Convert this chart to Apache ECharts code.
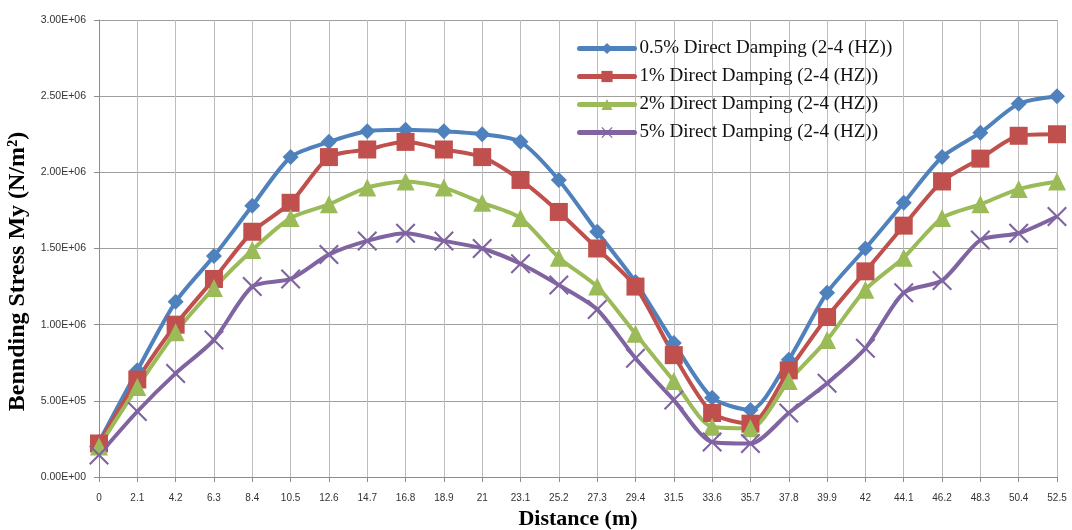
<!DOCTYPE html>
<html>
<head>
<meta charset="utf-8">
<script src="https://cdn.jsdelivr.net/npm/echarts@6/dist/echarts.min.js"></script>
<style>
  html, body { margin: 0; padding: 0; background: #fff; }
  #chart { width: 1072px; height: 530px; }
</style>
</head>
<body>
<div id="chart"></div>
<script>
// Distance along the member (m)
const distances = ['0', '2.1', '4.2', '6.3', '8.4', '10.5', '12.6', '14.7', '16.8', '18.9', '21', '23.1', '25.2',
  '27.3', '29.4', '31.5', '33.6', '35.7', '37.8', '39.9', '42', '44.1', '46.2', '48.3', '50.4', '52.5'];

// Bending stress My (N/m²) for each damping ratio
const damping05 = [2.3e5, 7.0e5, 1.15e6, 1.45e6, 1.78e6, 2.10e6, 2.20e6, 2.27e6, 2.28e6, 2.27e6, 2.25e6, 2.20e6, 1.95e6,
  1.61e6, 1.28e6, 8.8e5, 5.2e5, 4.4e5, 7.7e5, 1.21e6, 1.50e6, 1.80e6, 2.10e6, 2.26e6, 2.45e6, 2.50e6];
const damping1 = [2.2e5, 6.4e5, 1.00e6, 1.30e6, 1.61e6, 1.80e6, 2.10e6, 2.15e6, 2.20e6, 2.15e6, 2.10e6, 1.95e6, 1.74e6,
  1.50e6, 1.25e6, 8.0e5, 4.2e5, 3.5e5, 7.0e5, 1.05e6, 1.35e6, 1.65e6, 1.94e6, 2.09e6, 2.24e6, 2.25e6];
const damping2 = [2.0e5, 5.9e5, 9.5e5, 1.24e6, 1.49e6, 1.70e6, 1.79e6, 1.90e6, 1.94e6, 1.90e6, 1.80e6, 1.70e6, 1.44e6,
  1.25e6, 9.4e5, 6.3e5, 3.3e5, 3.2e5, 6.3e5, 9.0e5, 1.23e6, 1.44e6, 1.70e6, 1.79e6, 1.89e6, 1.94e6];
const damping5 = [1.45e5, 4.3e5, 6.8e5, 9.0e5, 1.25e6, 1.30e6, 1.46e6, 1.55e6, 1.60e6, 1.55e6, 1.50e6, 1.40e6, 1.26e6,
  1.10e6, 7.8e5, 5.05e5, 2.3e5, 2.2e5, 4.2e5, 6.15e5, 8.45e5, 1.21e6, 1.29e6, 1.555e6, 1.60e6, 1.71e6];

const seriesNames = [
  '0.5% Direct Damping (2-4 (HZ))',
  '1% Direct Damping (2-4 (HZ))',
  '2% Direct Damping (2-4 (HZ))',
  '5% Direct Damping (2-4 (HZ))'
];

const yTicks = { min: 0, max: 3e6, step: 5e5 };

// Excel-style scientific label, e.g. 2.50E+06
function sci(v) {
  if (v === 0) return '0.00E+00';
  const exp = Math.floor(Math.log10(Math.abs(v)));
  const mant = v / Math.pow(10, exp);
  const e = (exp < 10 ? '0' : '') + exp;
  return mant.toFixed(2) + 'E+' + e;
}

// thin "x" marker
const crossPath = 'path://M0,1.5 L1.5,0 L10,8.5 L18.5,0 L20,1.5 L11.5,10 L20,18.5 L18.5,20 L10,11.5 L1.5,20 L0,18.5 L8.5,10 Z';

function makeSeries(name, data, color, symbol, size) {
  return {
    name: name,
    type: 'line',
    data: data,
    smooth: 0.25,
    symbol: symbol,
    symbolSize: size,
    showAllSymbol: true,
    lineStyle: { width: 4, color: color },
    itemStyle: { color: color },
    emphasis: { disabled: true }
  };
}

const chart = echarts.init(document.getElementById('chart'), null, { renderer: 'canvas' });

chart.setOption({
  animation: false,
  backgroundColor: '#ffffff',
  grid: { left: 99, right: 15, top: 20, bottom: 53, containLabel: false, outerBoundsMode: 'none' },
  legend: {
    orient: 'vertical',
    left: 572,
    top: 34,
    itemWidth: 55,
    itemHeight: 14,
    itemGap: 9,
    lineStyle: { width: 5, cap: 'round' },
    textStyle: { fontFamily: 'Liberation Serif', fontSize: 19, color: '#111' },
    data: seriesNames
  },
  xAxis: {
    type: 'category',
    data: distances,
    boundaryGap: false,
    name: 'Distance (m)',
    nameLocation: 'middle',
    nameGap: 28,
    nameTextStyle: { fontFamily: 'Liberation Serif', fontWeight: 'bold', fontSize: 22, color: '#000' },
    axisLine: { lineStyle: { color: '#8c8c8c', width: 1 } },
    axisTick: { show: true, alignWithLabel: true, interval: 0, length: 5, lineStyle: { color: '#8c8c8c' } },
    axisLabel: { interval: 0, fontFamily: 'Liberation Sans', fontSize: 10, color: '#333', margin: 16 },
    splitLine: { show: true, interval: 0, lineStyle: { color: '#bdbdbd', width: 1 } }
  },
  yAxis: {
    type: 'value',
    min: yTicks.min,
    max: yTicks.max,
    interval: yTicks.step,
    name: 'Bennding Stress My (N/m²)',
    nameLocation: 'middle',
    nameGap: 62,
    nameRotate: 90,
    nameTextStyle: {
      fontFamily: 'Liberation Serif', fontWeight: 'bold', fontSize: 24, color: '#000',
      padding: [0, 46, 0, 0]
    },
    axisLine: { show: true, lineStyle: { color: '#8c8c8c', width: 1 } },
    axisTick: { show: true, length: 5, lineStyle: { color: '#8c8c8c' } },
    axisLabel: { formatter: sci, fontFamily: 'Liberation Sans', fontSize: 10.5, color: '#333', margin: 13 },
    splitLine: { show: true, lineStyle: { color: '#a0a0a0', width: 1 } }
  },
  series: [
    makeSeries(seriesNames[0], damping05, '#4f81bd', 'diamond', 16),
    makeSeries(seriesNames[1], damping1, '#c0504d', 'rect', 18),
    makeSeries(seriesNames[2], damping2, '#9bbb59', 'triangle', 18),
    makeSeries(seriesNames[3], damping5, '#8064a2', crossPath, 20)
  ]
});
</script>
</body>
</html>
